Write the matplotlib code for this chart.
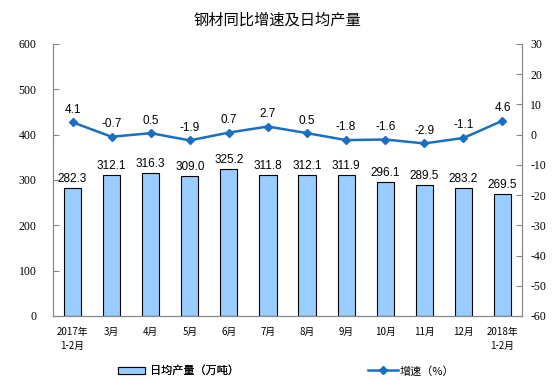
import matplotlib
matplotlib.use("Agg")
import matplotlib.pyplot as plt
from matplotlib.lines import Line2D
from matplotlib.patches import Patch

categories = ["2017年\n1-2月", "3月", "4月", "5月", "6月", "7月", "8月", "9月", "10月", "11月", "12月", "2018年\n1-2月"]
output = [282.3, 312.1, 316.3, 309.0, 325.2, 311.8, 312.1, 311.9, 296.1, 289.5, 283.2, 269.5]
growth = [4.1, -0.7, 0.5, -1.9, 0.7, 2.7, 0.5, -1.8, -1.6, -2.9, -1.1, 4.6]
left_ticks = [0, 100, 200, 300, 400, 500, 600]
right_ticks = [-60, -50, -40, -30, -20, -10, 0, 10, 20, 30]

plt.rcParams['font.family'] = ['Noto Sans CJK SC', 'DejaVu Sans']

fig = plt.figure(figsize=(5.54, 3.80), dpi=100)
ax = fig.add_axes([53/554, 1-316/380, (522-53)/554, (316-44)/380])
ax2 = ax.twinx()

x = list(range(len(categories)))
bar_color = "#99CCFF"
line_color = "#1A6FC4"

ax.bar(x, output, width=0.44, color=bar_color, edgecolor="black", linewidth=0.8, zorder=2)
for xi, v in zip(x, output):
    ax.text(xi, v + 6, f"{v:.1f}", ha="center", va="bottom", fontsize=8.5,
            family="Liberation Sans")

ax2.plot(x, growth, color=line_color, marker="D", markersize=4, linewidth=1.8, zorder=3)
for xi, v in zip(x, growth):
    ax2.text(xi, v + 2.2, f"{v:.1f}", ha="center", va="bottom", fontsize=8.5,
             family="Liberation Sans")

ax.set_xlim(-0.5, len(categories) - 0.5)
ax.set_ylim(0, 600)
ax2.set_ylim(-60, 30)
ax.set_yticks(left_ticks)
ax2.set_yticks(right_ticks)

ax.set_xticks(x)
ax.set_xticklabels(categories, fontsize=7, linespacing=1.5)
ax.tick_params(axis="x", length=0, pad=8)
ax.set_yticklabels([str(t) for t in left_ticks], family="Liberation Serif", fontsize=8.5)
ax2.set_yticklabels([str(t) for t in right_ticks], family="Liberation Serif", fontsize=8.5)
ax.tick_params(axis="y", direction="in", length=4, color="#888888", pad=12)
ax2.tick_params(axis="y", direction="in", length=4, color="#888888", pad=6)

for a in (ax, ax2):
    a.spines["top"].set_visible(False)
    for s in ("left", "right", "bottom"):
        a.spines[s].set_color("#888888")
        a.spines[s].set_linewidth(0.8)

fig.text(0.5, 1 - 20/380, "钢材同比增速及日均产量", ha="center", va="center", fontsize=11)

h1 = [Patch(facecolor=bar_color, edgecolor="black", linewidth=0.8, label="日均产量（万吨）")]
h2 = [Line2D([0], [0], color=line_color, marker="D", markersize=4, linewidth=1.8, label="增速（%）")]
leg1 = fig.legend(handles=h1, loc="center left", bbox_to_anchor=(118/554, 1 - 371/380),
                  frameon=False, fontsize=8, handlelength=2.4, handleheight=0.6,
                  handletextpad=0.45, borderpad=0, borderaxespad=0)
leg2 = fig.legend(handles=h2, loc="center left", bbox_to_anchor=(368/554, 1 - 371/380),
                  frameon=False, fontsize=8, handlelength=2.7, handletextpad=0.1,
                  borderpad=0, borderaxespad=0)
fig.add_artist(leg1)

fig.savefig("out.png", dpi=100)
